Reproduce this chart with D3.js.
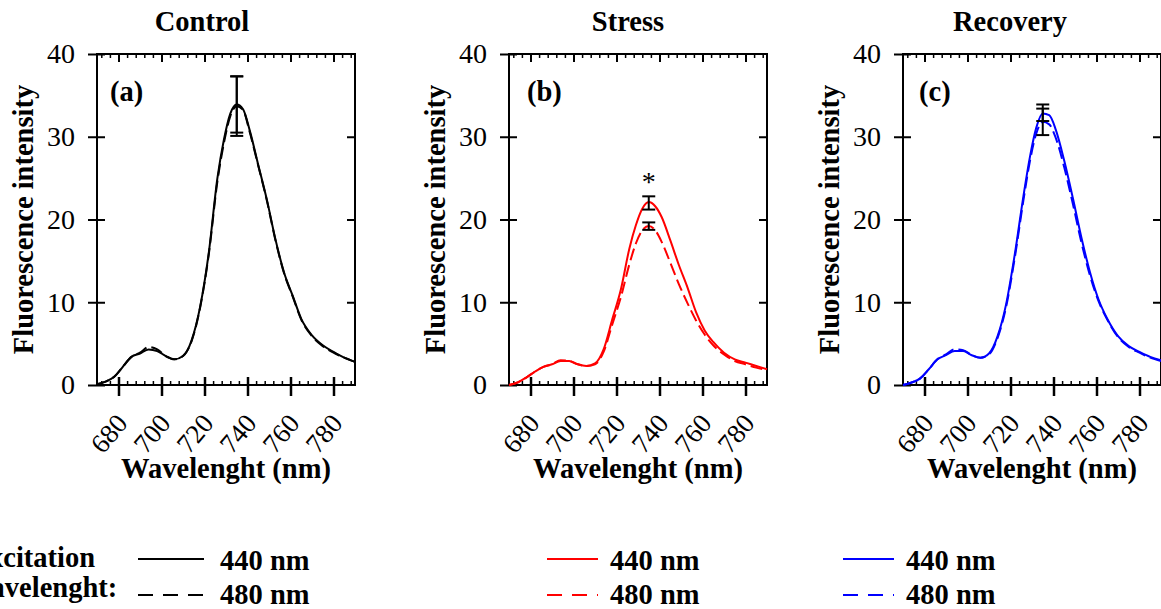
<!DOCTYPE html>
<html>
<head>
<meta charset="utf-8">
<script src="https://cdn.jsdelivr.net/npm/d3@7"></script>
<style>
    body { margin: 0; background: #fff; }
    svg text { font-family: "Liberation Serif", "Times New Roman", Times, serif; fill: #000; }
</style>
</head>
<body>
<svg id="chart" width="1161" height="609"></svg>
<script>

// wavelengths (nm) shared by every spectrum
let wavelengths = [670, 674, 678, 682, 686, 690, 694, 698, 702, 706, 710, 714, 718, 722, 726, 729,
    732, 735, 738, 741, 745, 749, 753, 757, 761, 765, 770, 775, 780, 785, 790];

// fluorescence, excitation 440 nm (solid) and 480 nm (dashed)
let control_440 = [0.1, 0.4, 1.0, 2.2, 3.4, 3.8, 4.3, 4.1, 3.5, 3.1, 3.5, 5.4, 9.5, 16.0, 25.0, 29.6,
    32.8, 33.9, 33.3, 30.8, 26.6, 22.4, 17.6, 13.6, 10.8, 8.0, 6.0, 4.8, 4.0, 3.3, 2.8];
let control_480 = [0.1, 0.4, 1.0, 2.2, 3.4, 3.9, 4.6, 4.3, 3.5, 3.1, 3.5, 5.3, 9.4, 15.8, 24.6, 29.2,
    32.5, 33.7, 33.2, 30.6, 26.5, 22.3, 17.5, 13.5, 10.7, 7.9, 5.9, 4.7, 3.9, 3.3, 2.8];
let stress_440 = [0.0, 0.3, 0.9, 1.6, 2.2, 2.5, 2.9, 2.9, 2.5, 2.3, 2.6, 4.3, 7.9, 11.5, 16.5, 19.3,
    21.3, 22.1, 21.6, 20.3, 17.5, 14.5, 11.8, 8.8, 6.6, 5.2, 3.9, 3.1, 2.7, 2.3, 1.9];
let stress_480 = [0.0, 0.3, 0.9, 1.6, 2.2, 2.5, 3.0, 2.9, 2.5, 2.3, 2.5, 4.0, 7.3, 10.6, 14.6, 17.1,
    18.7, 19.2, 18.7, 17.3, 14.8, 12.2, 9.9, 7.8, 6.1, 4.8, 3.7, 2.9, 2.5, 2.1, 1.8];
let recovery_440 = [0.0, 0.3, 0.8, 1.9, 3.1, 3.6, 4.1, 4.1, 3.6, 3.3, 3.8, 5.9, 9.8, 15.8, 22.8, 27.5,
    31.1, 32.8, 32.6, 30.9, 27.1, 22.6, 17.8, 13.6, 10.3, 8.0, 5.9, 4.7, 4.0, 3.4, 3.0];
let recovery_480 = [0.0, 0.3, 0.8, 1.9, 3.1, 3.7, 4.3, 4.2, 3.6, 3.3, 3.7, 5.7, 9.5, 15.4, 22.3, 27.0,
    30.4, 31.8, 31.5, 29.9, 26.3, 21.9, 17.2, 13.2, 10.1, 7.9, 5.8, 4.6, 3.9, 3.3, 2.9];

// peak mean +/- error, one value per panel
let err_wavelength = 735;
let err_mean_440 = [33.9, 22.0, 32.9];
let err_sd_440 = [3.4, 0.8, 1.0];
let err_mean_480 = [33.7, 19.2, 31.8];
let err_sd_480 = [3.6, 0.45, 1.6];

let panel_titles = ['Control', 'Stress', 'Recovery'];
let panel_letters = ['(a)', '(b)', '(c)'];
let series_440 = [control_440, stress_440, recovery_440];
let series_480 = [control_480, stress_480, recovery_480];
let significance = ['', '*', ''];
let legend_labels = ['440 nm', '480 nm'];

let x_ticks = [680, 700, 720, 740, 760, 780];
let x_minor = d3.range(672, 791, 4).filter(d => x_ticks.indexOf(d) < 0);
let y_ticks = [0, 10, 20, 30, 40];

// layout
let colors = ['#000000', '#ff0000', '#0000ff'];
let panel_left = [97, 509, 903];
let title_offset = [105, 119, 107];
let letter_offset = [13, 18, 16];
let plot_top = 54;
let plot_w = 258;
let plot_h = 331;
let tick_font = '27px';
let label_font = '28.5px';

let x = d3.scaleLinear().domain([670, 790]).range([0, plot_w]);
let y = d3.scaleLinear().domain([0, 40]).range([plot_h, 0]);

let line = d3.line()
    .x((d, i) => x(wavelengths[i]))
    .y(d => y(d))
    .curve(d3.curveMonotoneX);

let svg = d3.select('#chart');

function clean_axis(sel, width) {
    sel.select('.domain').remove();
    sel.selectAll('line').attr('stroke', '#000').attr('stroke-width', width);
}

function draw_panel(i) {

    let g = svg.append('g')
        .attr('transform', 'translate(' + panel_left[i] + ',' + plot_top + ')');

    // left axis, ticks cross the frame
    g.append('g')
        .call(d3.axisLeft(y).tickValues(y_ticks).tickSize(9).tickPadding(13))
        .call(clean_axis, 2)
        .selectAll('text')
        .style('font-size', '28px');

    g.append('g')
        .call(d3.axisRight(y).tickValues(y_ticks).tickSize(8).tickFormat(''))
        .call(clean_axis, 2);

    // right axis, inner ticks only
    g.append('g')
        .attr('transform', 'translate(' + plot_w + ',0)')
        .call(d3.axisLeft(y).tickValues([10, 20, 30]).tickSize(8).tickFormat(''))
        .call(clean_axis, 2);

    // top axis
    g.append('g')
        .call(d3.axisBottom(x).tickValues(x_ticks).tickSize(8).tickFormat(''))
        .call(clean_axis, 2);
    g.append('g')
        .call(d3.axisBottom(x).tickValues(x_minor).tickSize(4).tickFormat(''))
        .call(clean_axis, 1.5);

    // bottom axis
    g.append('g')
        .attr('transform', 'translate(0,' + plot_h + ')')
        .call(d3.axisTop(x).tickValues(x_ticks).tickSize(8).tickFormat(''))
        .call(clean_axis, 2.5);
    g.append('g')
        .attr('transform', 'translate(0,' + plot_h + ')')
        .call(d3.axisTop(x).tickValues(x_minor).tickSize(4).tickFormat(''))
        .call(clean_axis, 1.5);
    g.append('g')
        .attr('transform', 'translate(0,' + plot_h + ')')
        .call(d3.axisBottom(x).tickValues(x_ticks).tickSize(11))
        .call(clean_axis, 2.5)
        .selectAll('text')
        .attr('x', 0)
        .attr('y', 0)
        .attr('dy', null)
        .attr('text-anchor', 'end')
        .attr('transform', 'translate(10,39) rotate(-50)')
        .style('font-size', tick_font);

    // frame
    g.append('rect')
        .attr('width', plot_w)
        .attr('height', plot_h)
        .attr('fill', 'none')
        .attr('stroke', '#000')
        .attr('stroke-width', 2);

    // spectra
    g.append('path')
        .datum(series_440[i])
        .attr('d', line)
        .attr('fill', 'none')
        .attr('stroke', colors[i])
        .attr('stroke-width', 2);

    g.append('path')
        .datum(series_480[i])
        .attr('d', line)
        .attr('fill', 'none')
        .attr('stroke', colors[i])
        .attr('stroke-width', 2)
        .attr('stroke-dasharray', '12,5');

    // error bars at the peak
    let bars = [
        [err_mean_440[i] - err_sd_440[i], err_mean_440[i] + err_sd_440[i]],
        [err_mean_480[i] - err_sd_480[i], err_mean_480[i] + err_sd_480[i]]
    ];
    let eb = g.selectAll('.errbar')
        .data(bars)
        .join('g')
        .attr('class', 'errbar')
        .attr('stroke', '#000')
        .attr('stroke-width', 2);
    eb.append('line')
        .attr('x1', x(err_wavelength)).attr('x2', x(err_wavelength))
        .attr('y1', d => y(d[0])).attr('y2', d => y(d[1]));
    eb.selectAll('.cap')
        .data(d => d)
        .join('line')
        .attr('class', 'cap')
        .attr('x1', x(err_wavelength) - 6.5).attr('x2', x(err_wavelength) + 6.5)
        .attr('y1', d => y(d)).attr('y2', d => y(d));

    g.append('text')
        .text(significance[i])
        .attr('x', x(err_wavelength))
        .attr('y', y(err_mean_440[i] + err_sd_440[i]) - 5)
        .attr('text-anchor', 'middle')
        .style('font-size', '28px');

    // labels
    g.append('text')
        .text(panel_titles[i])
        .attr('x', title_offset[i])
        .attr('y', -23)
        .attr('text-anchor', 'middle')
        .style('font-size', label_font)
        .style('font-weight', 'bold');

    g.append('text')
        .text(panel_letters[i])
        .attr('x', letter_offset[i])
        .attr('y', 47)
        .style('font-size', label_font)
        .style('font-weight', 'bold');

    g.append('text')
        .text('Fluorescence intensity')
        .attr('transform', 'translate(-64,' + (plot_h / 2) + ') rotate(-90)')
        .attr('text-anchor', 'middle')
        .style('font-size', label_font)
        .style('font-weight', 'bold');

    g.append('text')
        .text('Wavelenght (nm)')
        .attr('x', plot_w / 2)
        .attr('y', 424)
        .attr('text-anchor', 'middle')
        .style('font-size', label_font)
        .style('font-weight', 'bold');
}

panel_titles.forEach((d, i) => draw_panel(i));

// legend
let legend_line_x = [[138, 204], [547, 598], [843, 894]];
let legend_text_x = [220, 610, 906];
let legend_line_y = [559, 595];
let legend_text_y = [570, 604];

svg.append('text').text('Excitation')
    .attr('x', -30).attr('y', 567)
    .style('font-size', label_font).style('font-weight', 'bold');
svg.append('text').text('wavelenght:')
    .attr('x', -30).attr('y', 597)
    .style('font-size', label_font).style('font-weight', 'bold');

colors.forEach(function (c, i) {
    legend_labels.forEach(function (lab, j) {
        svg.append('line')
            .attr('x1', legend_line_x[i][0]).attr('x2', legend_line_x[i][1])
            .attr('y1', legend_line_y[j]).attr('y2', legend_line_y[j])
            .attr('stroke', c)
            .attr('stroke-width', 2)
            .attr('stroke-dasharray', j == 1 ? '15,10' : null);
        svg.append('text').text(lab)
            .attr('x', legend_text_x[i]).attr('y', legend_text_y[j])
            .style('font-size', label_font).style('font-weight', 'bold');
    });
});

</script>
</body>
</html>
